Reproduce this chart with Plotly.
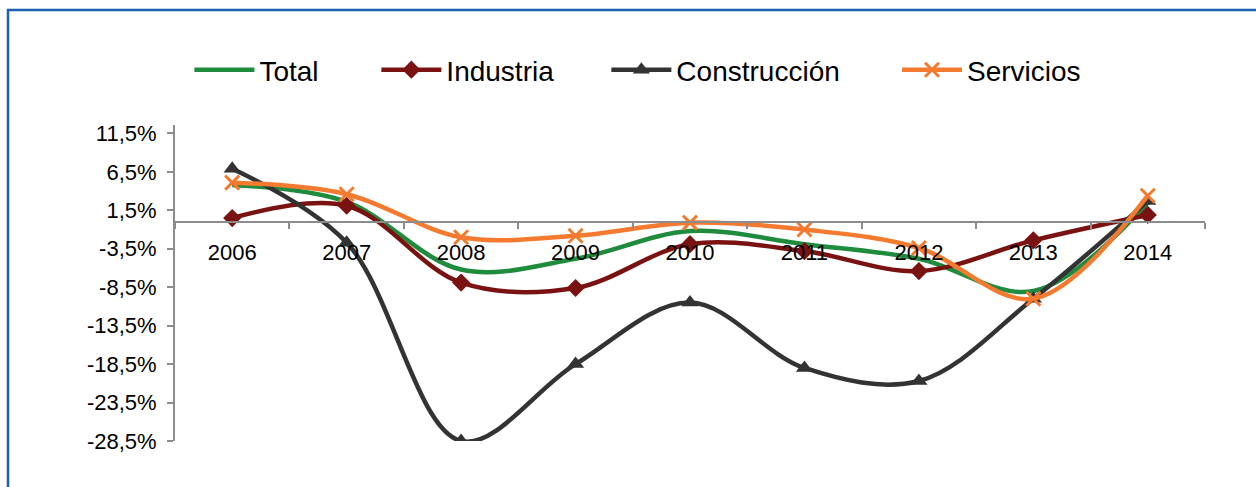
import plotly.graph_objects as go

years = ["2006", "2007", "2008", "2009", "2010", "2011", "2012", "2013", "2014"]
total = [4.8, 2.6, -6.2, -4.8, -1.2, -2.9, -4.8, -9.0, 2.5]
industria = [0.5, 2.1, -7.9, -8.6, -2.9, -3.8, -6.4, -2.4, 0.9]
construccion = [6.9, -2.7, -28.5, -18.5, -10.5, -19.0, -20.7, -10.0, 2.7]
servicios = [5.1, 3.6, -2.0, -1.8, -0.1, -1.0, -3.4, -10.0, 3.4]
yticks = [11.5, 6.5, 1.5, -3.5, -8.5, -13.5, -18.5, -23.5, -28.5]
ytick_labels = ["11,5%", "6,5%", "1,5%", "-3,5%", "-8,5%", "-13,5%", "-18,5%", "-23,5%", "-28,5%"]

y_min, y_max = -28.5, 12.6

fig = go.Figure()
series = [
    ("Total", total, "#1e8b3d", None, 0, "legend"),
    ("Industria", industria, "#7a1212", "diamond", 14, "legend2"),
    ("Construcción", construccion, "#333333", "triangle-up", 15, "legend3"),
    ("Servicios", servicios, "#f47a30", "x-thin", 14, "legend4"),
]
for name, vals, color, sym, size, leg in series:
    if sym is None:
        mode = "lines"
        marker = None
    else:
        mode = "lines+markers"
        marker = dict(symbol=sym, size=size, color=color,
                      line=dict(color=color, width=3 if sym == "x-thin" else 0))
    fig.add_trace(go.Scatter(
        x=years, y=vals, name=name, mode=mode, legend=leg,
        line=dict(color=color, width=4.5, shape="spline", smoothing=1.0),
        marker=marker,
    ))

zero_pos = (0 - y_min) / (y_max - y_min)

legend_common = dict(orientation="h", xanchor="left", y=1.174, yanchor="middle",
                     font=dict(size=28), itemwidth=60, bgcolor="rgba(0,0,0,0)")
leg_x = {"legend": 0.014, "legend2": 0.1955, "legend3": 0.4188, "legend4": 0.701}

fig.update_layout(
    width=1256, height=487,
    margin=dict(l=175, r=51, t=125, b=46),
    paper_bgcolor="white", plot_bgcolor="white",
    font=dict(family="Liberation Sans, Arial, sans-serif", color="black"),
    showlegend=True,
    xaxis=dict(
        type="category", anchor="free", position=zero_pos,
        showline=True, linecolor="#8c8c8c", linewidth=2,
        ticks="outside", ticklen=6, tickwidth=2, tickcolor="#8c8c8c",
        tickson="boundaries", showgrid=False, zeroline=False,
        tickfont=dict(size=22), ticklabelstandoff=11,
        range=[-0.5, 8.5],
    ),
    yaxis=dict(
        range=[y_min, y_max], tickvals=yticks, ticktext=ytick_labels,
        showline=True, linecolor="#8c8c8c", linewidth=2,
        ticks="outside", ticklen=6, tickwidth=2, tickcolor="#8c8c8c",
        showgrid=False, zeroline=False, tickfont=dict(size=22),
        ticklabelstandoff=6,
    ),
    shapes=[dict(type="rect", xref="paper", yref="paper",
                 x0=(8 - 175) / 1030, x1=1.2, y0=-0.5, y1=(441 - 10) / 316,
                 line=dict(color="#1a62b0", width=2.5), layer="below")],
)
for key, xv in leg_x.items():
    fig.update_layout({key: dict(legend_common, x=xv)})

fig.write_html("out.html", config={"displayModeBar": False},
               post_script="document.body.style.margin='0';")
